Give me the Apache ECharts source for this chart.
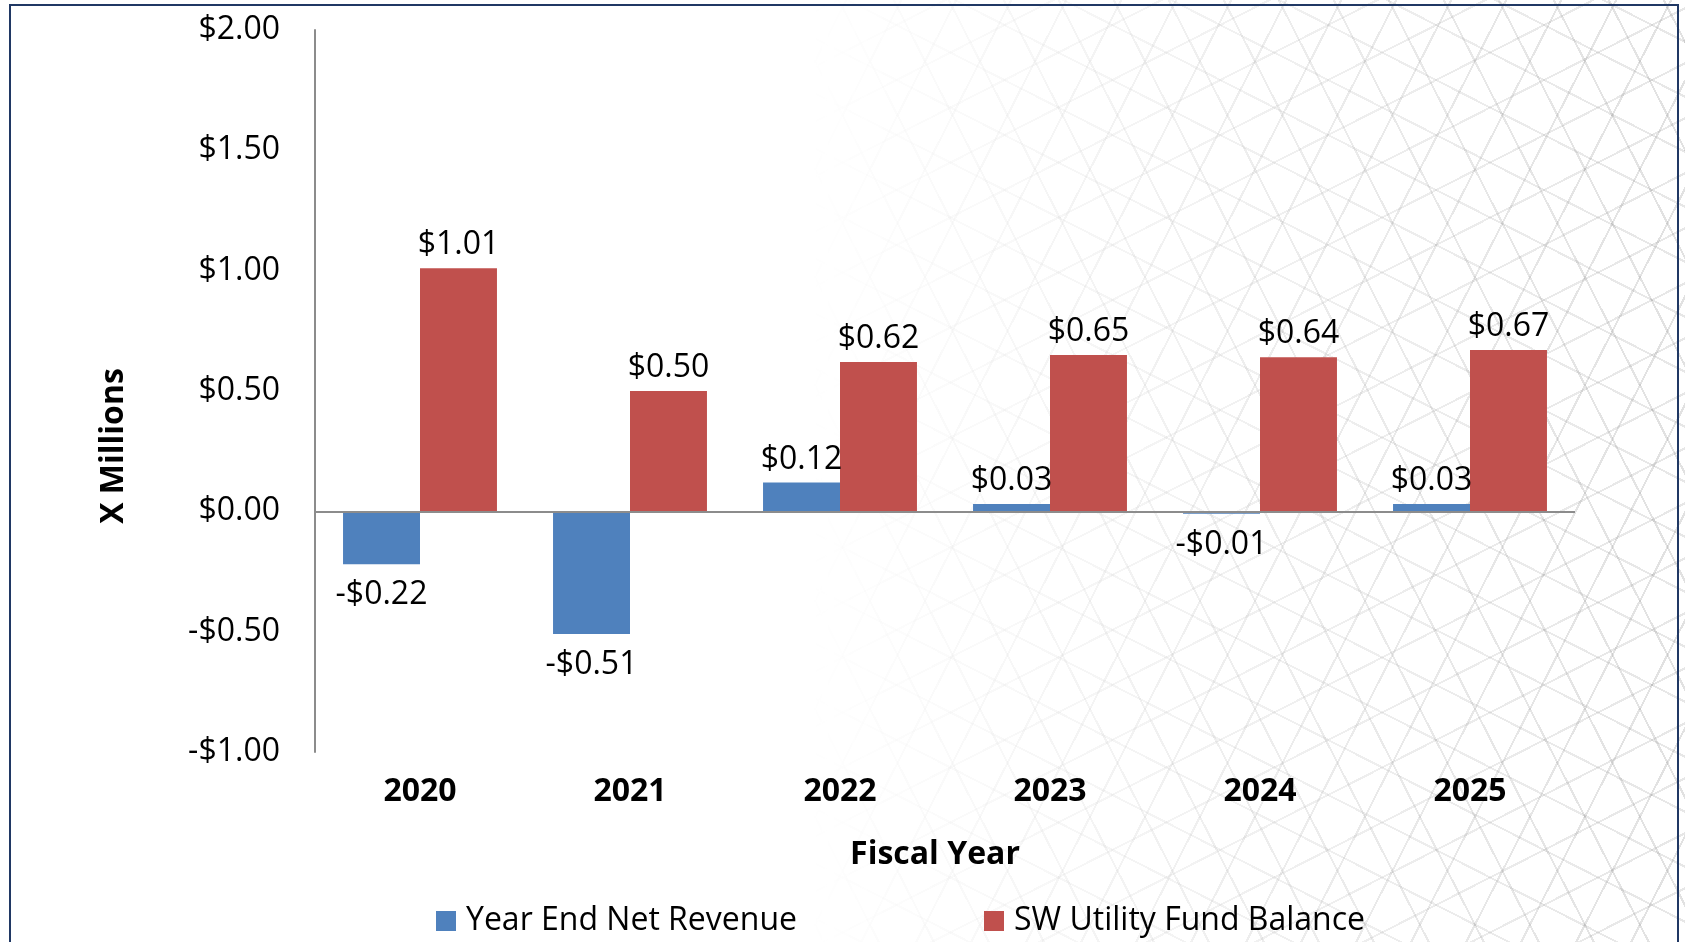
<!DOCTYPE html>
<html>
<head>
<meta charset="utf-8">
<script src="https://cdn.jsdelivr.net/npm/echarts@6/dist/echarts.min.js"></script>
<style>
	html, body { margin: 0; padding: 0; background: #fff; overflow: hidden; }
	#wrap { position: relative; width: 1685px; height: 942px; }
	/* motif géométrique léger en fond, qui apparaît vers la droite */
	#motif {
		position: absolute; left: 0; top: 0; width: 1685px; height: 942px;
		background:
			repeating-linear-gradient(63deg, transparent 0 47px, rgba(120,120,120,0.22) 47px 49px),
			repeating-linear-gradient(-63deg, transparent 0 47px, rgba(120,120,120,0.22) 47px 49px),
			repeating-linear-gradient(27deg, transparent 0 47px, rgba(120,120,120,0.18) 47px 49px),
			repeating-linear-gradient(-27deg, transparent 0 47px, rgba(120,120,120,0.18) 47px 49px);
		-webkit-mask-image: linear-gradient(to right, transparent 48%, rgba(0,0,0,0.6) 75%, #000 100%);
		mask-image: linear-gradient(to right, transparent 48%, rgba(0,0,0,0.6) 75%, #000 100%);
	}
	#cadre {
		position: absolute; left: 9px; top: 4px; width: 1670px; height: 960px;
		border: 2px solid #203864; box-sizing: border-box;
	}
	#chart { position: absolute; left: 0; top: 0; width: 1685px; height: 942px; }
</style>
</head>
<body>
<div id="wrap">
	<div id="motif"></div>
	<div id="cadre"></div>
	<div id="chart"></div>
</div>
<script>
// Données du graphique
var annees = ['2020', '2021', '2022', '2023', '2024', '2025'];
var revenuNet = [-0.22, -0.51, 0.12, 0.03, -0.01, 0.03];
var soldeFonds = [1.01, 0.50, 0.62, 0.65, 0.64, 0.67];
var nomsSeries = ['Year End Net Revenue', 'SW Utility Fund Balance'];

var police = "'Open Sans', sans-serif";

// Format monétaire : -$0.22, $1.01
function dollars(v) {
	return (v < 0 ? '-$' : '$') + Math.abs(v).toFixed(2);
}

// Étiquette au-dessus ou en dessous selon le signe
function versBarres(valeurs) {
	return valeurs.map(function (v) {
		if (v < 0) {
			return { value: v, label: { position: 'bottom', distance: 15 } };
		}
		return { value: v, label: { position: 'top' } };
	});
}

var etiquette = {
	show: true,
	distance: 7,
	color: '#000',
	fontFamily: police,
	fontSize: 32,
	formatter: function (p) { return dollars(p.value); }
};

var chart = echarts.init(document.getElementById('chart'));

var options = {
	backgroundColor: 'transparent',
	animation: false,
	grid: { left: 315, right: 110, top: 30, bottom: 190 },
	legend: {
		left: 431,
		top: 900,
		itemWidth: 20,
		itemHeight: 20,
		itemGap: 187,
		icon: 'rect',
		textStyle: { fontFamily: police, fontSize: 32, color: '#000', padding: [0, 0, 0, 5] },
		data: nomsSeries
	},
	xAxis: {
		type: 'category',
		data: annees,
		name: 'Fiscal Year',
		nameLocation: 'middle',
		nameGap: 87,
		nameTextStyle: {
			fontFamily: police, fontSize: 32, fontWeight: 'bold', color: '#000',
			padding: [0, 20, 0, 0]
		},
		axisLine: { show: false, onZero: false },
		axisTick: { show: false },
		axisLabel: { margin: 24, fontFamily: police, fontSize: 32, fontWeight: 'bold', color: '#000' }
	},
	yAxis: {
		type: 'value',
		min: -1,
		max: 2,
		interval: 0.5,
		name: 'X Millions',
		nameLocation: 'middle',
		nameGap: 185,
		nameTextStyle: {
			fontFamily: police, fontSize: 32, fontWeight: 'bold', color: '#000',
			padding: [0, 110, 0, 0]
		},
		axisLine: { show: true, lineStyle: { color: '#8c8c8c', width: 2 } },
		axisTick: { show: false },
		splitLine: { show: false },
		axisLabel: {
			margin: 35, fontFamily: police, fontSize: 32, color: '#000',
			formatter: dollars
		}
	},
	series: [
		{
			name: nomsSeries[0],
			type: 'bar',
			barGap: '0%',
			barCategoryGap: '26.7%',
			itemStyle: { color: '#4F81BD' },
			label: etiquette,
			data: versBarres(revenuNet),
			markLine: {
				silent: true,
				symbol: 'none',
				label: { show: false },
				lineStyle: { color: '#8c8c8c', width: 2, type: 'solid' },
				data: [{ yAxis: 0 }]
			}
		},
		{
			name: nomsSeries[1],
			type: 'bar',
			itemStyle: { color: '#C0504D' },
			label: etiquette,
			data: versBarres(soldeFonds)
		}
	]
};

chart.setOption(options);
</script>
</body>
</html>
